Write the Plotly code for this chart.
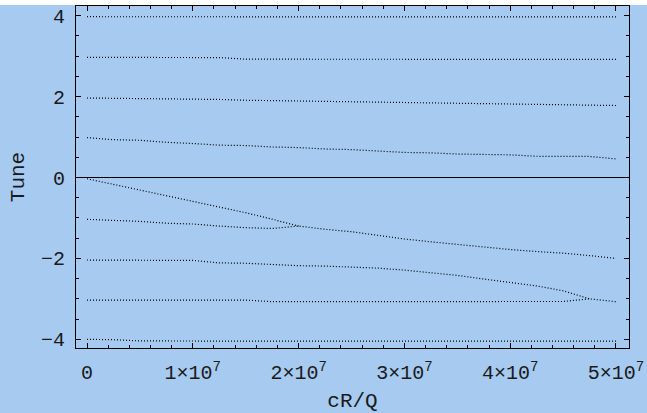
import plotly.graph_objects as go

# cR/Q sample positions (shared by all modes)
cRQ = [0, 2.5e6, 5e6, 7.5e6, 1e7, 1.25e7, 1.5e7, 1.75e7, 2e7, 2.25e7, 2.5e7,
       2.75e7, 3e7, 3.25e7, 3.5e7, 3.75e7, 4e7, 4.25e7, 4.5e7, 4.75e7, 5e7]

# tune of each mode (None where the mode has merged with a neighbour)
mode_p4 = [3.975, 3.975, 3.975, 3.975, 3.975, 3.975, 3.972, 3.972, 3.972, 3.972, 3.972,
           3.972, 3.97, 3.97, 3.97, 3.97, 3.97, 3.97, 3.97, 3.97, 3.97]
mode_p3 = [2.97, 2.97, 2.97, 2.97, 2.97, 2.965, 2.925, 2.925, 2.925, 2.925, 2.925,
           2.925, 2.925, 2.922, 2.922, 2.922, 2.922, 2.92, 2.92, 2.92, 2.92]
mode_p2 = [1.965, 1.96, 1.96, 1.955, 1.95, 1.93, 1.91, 1.90, 1.90, 1.895, 1.885,
           1.87, 1.85, 1.84, 1.84, 1.835, 1.825, 1.81, 1.795, 1.785, 1.78]
mode_p1 = [0.985, 0.935, 0.92, 0.87, 0.84, 0.80, 0.79, 0.755, 0.74, 0.705, 0.69,
           0.66, 0.62, 0.61, 0.58, 0.57, 0.56, 0.525, 0.525, 0.52, 0.46]
mode_0 = [-0.03, -0.17, -0.31, -0.45, -0.59, -0.73, -0.87, -1.03, -1.2, None, None,
          None, None, None, None, None, None, None, None, None, None]
mode_m1 = [-1.035, -1.06, -1.085, -1.13, -1.15, -1.2, -1.24, -1.26, -1.2, -1.28, -1.34,
           -1.43, -1.52, -1.59, -1.655, -1.73, -1.78, -1.83, -1.87, -1.93, -2.0]
mode_m2 = [-2.04, -2.04, -2.04, -2.04, -2.05, -2.11, -2.12, -2.15, -2.18, -2.19, -2.22,
           -2.24, -2.29, -2.36, -2.42, -2.51, -2.60, -2.68, -2.80, -3.0, None]
mode_m3 = [-3.03, -3.03, -3.03, -3.03, -3.03, -3.03, -3.03, -3.07, -3.07, -3.07, -3.07,
           -3.07, -3.07, -3.07, -3.07, -3.07, -3.07, -3.07, -3.065, -3.0, -3.07]
mode_m4 = [-4.0, -4.01, -4.04, -4.045, -4.045, -4.045, -4.045, -4.045, -4.045, -4.045, -4.045,
           -4.045, -4.045, -4.045, -4.045, -4.045, -4.045, -4.045, -4.045, -4.045, -4.045]

modes = [mode_p4, mode_p3, mode_p2, mode_p1, mode_0, mode_m1, mode_m2, mode_m3, mode_m4]

x_tickvals = [0, 1e7, 2e7, 3e7, 4e7, 5e7]
x_ticktext = ["0", "1×10<sup>7</sup>", "2×10<sup>7</sup>", "3×10<sup>7</sup>",
              "4×10<sup>7</sup>", "5×10<sup>7</sup>"]
y_tickvals = [-4, -2, 0, 2, 4]
y_ticktext = ["−4", "−2", "0", "2", "4"]

BG = "#a6caf0"
FONT = "Liberation Mono"
TXT = "#1a1a1a"

fig = go.Figure()
for m in modes:
    fig.add_trace(go.Scatter(
        x=cRQ, y=m, mode="lines", connectgaps=False,
        line=dict(color="black", width=1.2, dash="1px,2px"),
        hoverinfo="skip", showlegend=False))

axis_common = dict(
    showgrid=False, showline=True, linecolor="black", linewidth=1,
    mirror="allticks", ticks="inside", tickcolor="black", ticklen=5, tickwidth=1,
    tickfont=dict(family=FONT, size=20, color=TXT),
)

fig.update_xaxes(
    range=[-1.04e6, 5.123e7], tickmode="array", tickvals=x_tickvals, ticktext=x_ticktext,
    zeroline=False, ticklabelstandoff=6,
    minor=dict(tickmode="linear", tick0=0, dtick=2e6, ticks="inside", ticklen=3,
               tickcolor="black", tickwidth=1),
    title=dict(text="cR/Q", font=dict(family=FONT, size=21, color=TXT), standoff=8),
    **axis_common)
fig.update_yaxes(
    range=[-4.215, 4.24], tickmode="array", tickvals=y_tickvals, ticktext=y_ticktext,
    zeroline=True, zerolinecolor="black", zerolinewidth=1, ticklabelstandoff=6,
    minor=dict(tickmode="linear", tick0=0, dtick=0.5, ticks="inside", ticklen=3,
               tickcolor="black", tickwidth=1),
    title=dict(text="Tune", font=dict(family=FONT, size=21, color=TXT), standoff=10),
    **axis_common)

fig.update_layout(
    width=647, height=408,
    margin=dict(l=76, r=18, t=1, b=65),
    paper_bgcolor=BG, plot_bgcolor=BG,
)

fig.write_html("out.html", config={"displayModeBar": False},
               post_script="document.body.style.margin='5px 0 0 0';"
                           "document.body.style.background='white';")
